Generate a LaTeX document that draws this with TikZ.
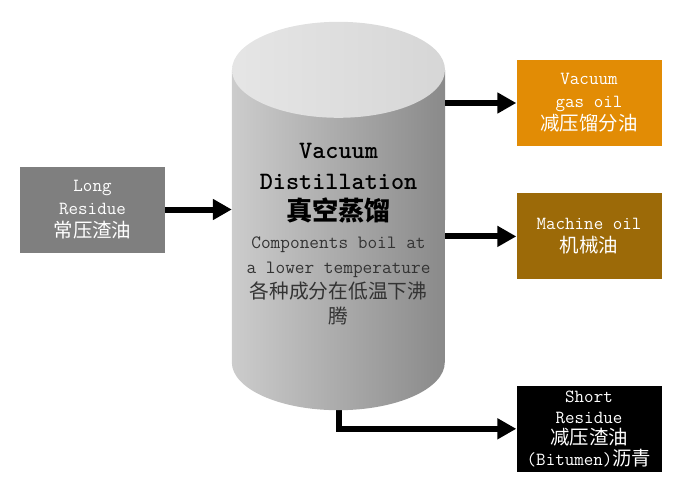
\documentclass[tikz,border=0pt]{standalone}
\usepackage{fontspec}
\newfontfamily\cjk[Scale=1.05]{Noto Sans CJK SC}
\usepackage{tikz}
\usetikzlibrary{arrows.meta,positioning}

\definecolor{lrgray}{HTML}{7F7F7F}
\definecolor{vgoorange}{HTML}{E28C05}
\definecolor{mobrown}{HTML}{9C6A08}

\begin{document}
\begin{tikzpicture}[x=1pt,y=-1pt,>={Triangle[length=19pt,width=20pt]},node distance=47pt,
                    flow/.style={->,line width=6pt},
                    out box/.style={rectangle,minimum width=145pt,minimum height=86pt,inner sep=0pt,
                                    text=white,align=center,font=\ttfamily\fontsize{18.5}{23}\selectfont}]

  \useasboundingbox (0,0) rectangle (688,493);

  \node[out box,fill=lrgray] (lr) at (92.5,209.5) {Long\\Residue\\{\cjk 常压渣油}};
  \node[out box,fill=vgoorange] (vgo) at (589,103) {Vacuum\\gas oil\\{\cjk 减压馏分油}};
  \node[out box,fill=mobrown] (mo) [below=of vgo] {Machine oil\\{\cjk 机械油}};
  \node[out box,fill=black,font=\ttfamily\fontsize{18.5}{21}\selectfont] (sr) [below=106pt of mo]
    {Short\\Residue\\{\cjk 减压渣油}\\(Bitumen){\cjk 沥青}};

  \node[minimum width=213pt,minimum height=292pt,inner sep=0pt] (column) at (338.5,216) {};

  \draw[flow] ([yshift=-40pt]column.south) |- (sr);

  \shade[left color=black!20,right color=black!46]
    (column.north west) -- (column.south west)
    arc[start angle=180,end angle=360,x radius=106.5pt,y radius=48pt]
    -- (column.north east) -- cycle;
  \shade[left color=black!10,right color=black!16] (column.north) ellipse[x radius=106.5pt,y radius=48pt];

  \node[align=center,font=\ttfamily\fontsize{25}{31}\selectfont\bfseries] (title) at (338.5,183)
    {Vacuum\\Distillation\\{\cjk 真空蒸馏}};
  \node[align=center,text=black!80,font=\ttfamily\fontsize{18.8}{25}\selectfont] (desc) at (338.5,281)
    {Components boil at\\a lower temperature\\{\cjk 各种成分在低温下沸}\\{\cjk 腾}};

  \draw[flow] (lr) -- (column.west |- lr);
  \draw[flow] (column.east |- vgo) -- (vgo);
  \draw[flow] (column.east |- mo) -- (mo);
\end{tikzpicture}
\end{document}
